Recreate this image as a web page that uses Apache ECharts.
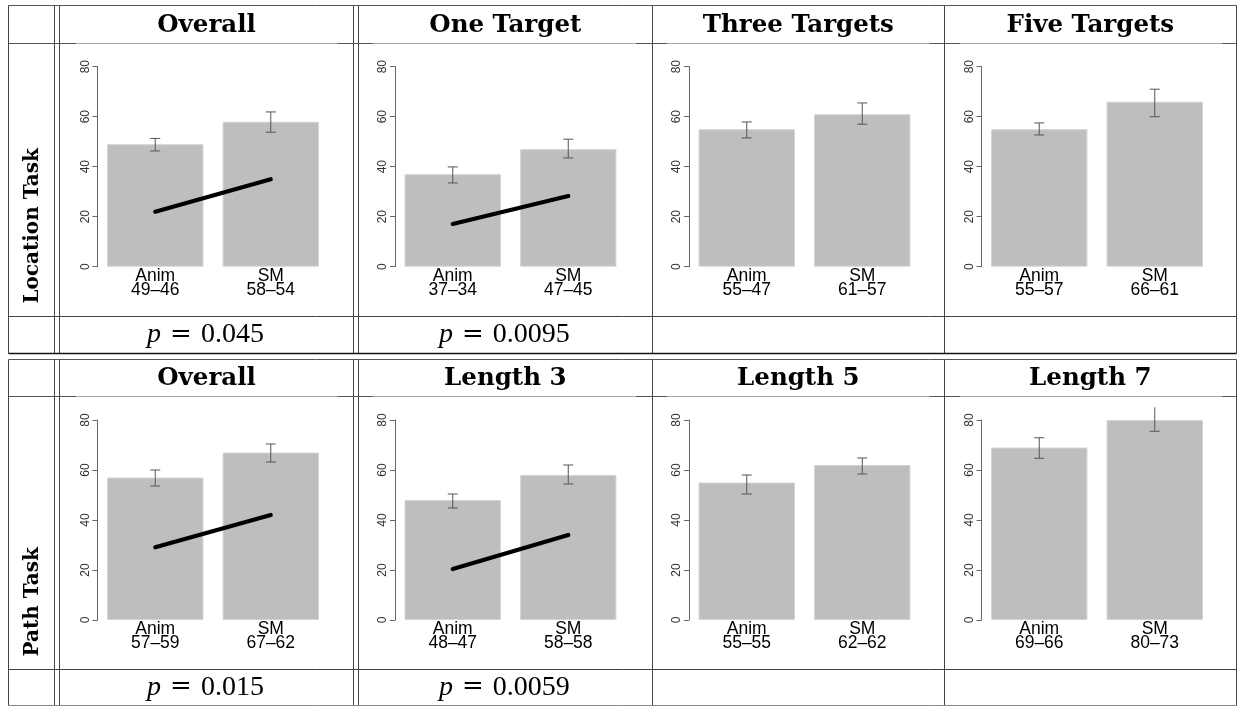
<!DOCTYPE html>
<html>
<head>
<meta charset="utf-8">
<script src="https://cdn.jsdelivr.net/npm/echarts@6/dist/echarts.min.js"></script>
<style>
  html, body { margin: 0; padding: 0; background: #fff; }
  #chart { width: 1239px; height: 706px; }
</style>
</head>
<body>
<div id="chart"></div>
<script>
// ---- data ----
const taskNames = ['Location Task', 'Path Task'];
const panelTitles = [
  ['Overall', 'One Target', 'Three Targets', 'Five Targets'],
  ['Overall', 'Length 3', 'Length 5', 'Length 7']
];
const methods = ['Anim', 'SM'];
// per panel (row-major: Location x4, Path x4), one value per method
const barValues    = [[49, 58], [37, 47], [55, 61], [55, 66], [57, 67], [48, 58], [55, 62], [69, 80]];
const secondValues = [[46, 54], [34, 45], [47, 57], [57, 61], [59, 62], [47, 58], [55, 62], [66, 73]];
const errLow  = [[46.3, 53.8], [33.5, 43.5], [51.5, 57.0], [52.7, 60.0], [53.6, 63.2], [44.8, 54.4], [50.4, 58.4], [64.7, 75.5]];
const errHigh = [[51.3, 61.9], [39.9, 51.0], [57.9, 65.5], [57.5, 71.0], [60.0, 70.4], [50.4, 62.0], [58.0, 64.8], [72.9, 86.0]];
const trendValues = [[22.0, 35.0], [17.1, 28.3], null, null, [29.1, 42.0], [20.4, 34.0], null, null];
const pValues = ['0.045', '0.0095', '', '', '0.015', '0.0059', '', ''];
const yTicks = [0, 20, 40, 60, 80];

// ---- layout ----
const axisX = [98.5, 396, 690, 982.5];
const plotTop = [66.7, 420];
const colLines = [8.5, 54.5, 59.5, 353.5, 358.5, 652.5, 944.5, 1236.5];
const cellCenter = [206.5, 505.3, 798.3, 1090.3];
const tables = [
  { top: 5.5, head: 43.5, pRow: 316.5, bottom: 353.5 },
  { top: 359.5, head: 396.5, pRow: 669.5, bottom: 705.5 }
];
const imageSpans = [[76, 338], [373, 636], [667, 929], [960, 1222]];

const grids = [], xAxes = [], yAxes = [], series = [];

for (let r = 0; r < 2; r++) {
  for (let c = 0; c < 4; c++) {
    const i = r * 4 + c;
    grids.push({ left: axisX[c] - 1, top: plotTop[r], width: 231, height: 200 });
    xAxes.push({
      type: 'category', gridIndex: i,
      data: methods.map((m, k) => m + '\n' + barValues[i][k] + '\u2013' + secondValues[i][k]),
      axisLine: { show: false }, axisTick: { show: false },
      axisLabel: {
        interval: 0, margin: 2, color: '#000',
        fontFamily: 'Liberation Sans', fontSize: 17.5, lineHeight: 14
      }
    });
    yAxes.push({
      type: 'value', gridIndex: i, min: yTicks[0], max: yTicks[yTicks.length - 1], interval: 20,
      splitLine: { show: false },
      axisLine: { show: true, lineStyle: { color: '#666', width: 1 } },
      axisTick: { show: true, length: 5, lineStyle: { color: '#666', width: 1 } },
      axisLabel: { rotate: 90, margin: 6, color: '#333', fontFamily: 'Liberation Sans', fontSize: 12 }
    });
    series.push({
      type: 'bar', xAxisIndex: i, yAxisIndex: i,
      data: barValues[i], barWidth: 96.4,
      itemStyle: { color: '#bebebe', borderColor: '#d4d4d4', borderWidth: 1 },
      silent: true
    });
    series.push({
      type: 'custom', xAxisIndex: i, yAxisIndex: i, z: 4, silent: true,
      data: methods.map((m, k) => [k, errLow[i][k], errHigh[i][k]]),
      encode: { x: 0, y: [1, 2] },
      renderItem: function (params, api) {
        const idx = api.value(0);
        const x = api.coord([idx, 0])[0];
        const lo = api.coord([idx, api.value(1)])[1];
        let hi = api.coord([idx, api.value(2)])[1];
        const limit = params.coordSys.y - 12.7;   // edge of the figure region
        const clipped = hi < limit;
        if (clipped) hi = limit;
        const st = { stroke: '#555', lineWidth: 1, fill: null };
        const kids = [
          { type: 'line', shape: { x1: x, y1: lo, x2: x, y2: hi }, style: st },
          { type: 'line', shape: { x1: x - 5, y1: lo, x2: x + 5, y2: lo }, style: st }
        ];
        if (!clipped) kids.push({ type: 'line', shape: { x1: x - 5, y1: hi, x2: x + 5, y2: hi }, style: st });
        return { type: 'group', children: kids };
      }
    });
    if (trendValues[i]) {
      series.push({
        type: 'line', xAxisIndex: i, yAxisIndex: i, z: 5, silent: true,
        data: trendValues[i], symbol: 'none',
        lineStyle: { color: '#000', width: 4.2, cap: 'round' }
      });
    }
  }
}

// ---- table rules and cell text ----
const graphic = [];
function hline(x1, x2, y, color, w) {
  graphic.push({ type: 'line', silent: true, shape: { x1, y1: y, x2, y2: y }, style: { stroke: color, lineWidth: w } });
}
function vline(x, y1, y2, color, w) {
  graphic.push({ type: 'line', silent: true, shape: { x1: x, y1, x2: x, y2 }, style: { stroke: color, lineWidth: w } });
}

tables.forEach((t, r) => {
  const L = colLines[0], R = colLines[colLines.length - 1];
  colLines.forEach(x => vline(x, t.top, t.bottom, '#444', 1));
  hline(L, R, t.top, '#555', 1);
  hline(L, R, t.head, '#555', 1);
  imageSpans.forEach(s => hline(s[0], s[1], t.head, '#a8a8a8', 1));
  hline(L, R, t.pRow, '#444', 1);
  hline(L, R, t.bottom, r === 0 ? '#111' : '#888', r === 0 ? 1.6 : 1);

  // panel titles
  panelTitles[r].forEach((title, c) => {
    graphic.push({
      type: 'text', silent: true, x: cellCenter[c], y: (t.top + t.head) / 2 + 1,
      style: {
        text: title, fill: '#000', align: 'center', verticalAlign: 'middle',
        font: 'bold 24.5px "DejaVu Serif"'
      }
    });
  });

  // p values
  for (let c = 0; c < 4; c++) {
    const p = pValues[r * 4 + c];
    if (!p) continue;
    graphic.push({
      type: 'text', silent: true, x: cellCenter[c] - 1, y: (t.pRow + t.bottom) / 2,
      style: {
        text: '{i|p}{e|=}{n|' + p + '}', fill: '#000', align: 'center', verticalAlign: 'middle',
        fontFamily: 'Liberation Serif', fontSize: 28,
        rich: {
          i: { fontStyle: 'italic', fontFamily: 'Liberation Serif', fontSize: 28 },
          e: { fontFamily: 'DejaVu Serif', fontSize: 26, padding: [0, 9, 0, 9] },
          n: { fontFamily: 'Liberation Serif', fontSize: 28 }
        }
      }
    });
  }

  // row label, reading upward from near the bottom of the plot row
  graphic.push({
    type: 'text', silent: true, x: 33, y: t.pRow - 13, rotation: Math.PI / 2,
    style: {
      text: taskNames[r], fill: '#000', align: 'left', verticalAlign: 'middle',
      font: 'bold 20px "DejaVu Serif"'
    }
  });
});

const chart = echarts.init(document.getElementById('chart'), null, { renderer: 'canvas' });
chart.setOption({
  animation: false,
  backgroundColor: '#fff',
  grid: grids,
  xAxis: xAxes,
  yAxis: yAxes,
  series: series,
  graphic: graphic
});
</script>
</body>
</html>
